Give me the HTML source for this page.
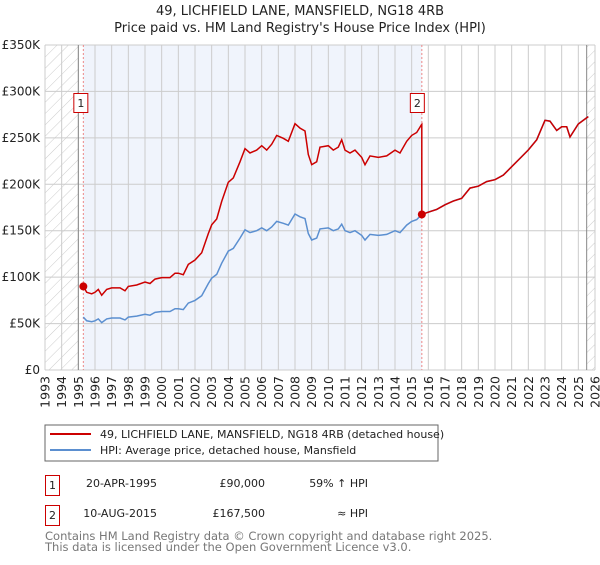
<!DOCTYPE html>
<html><head><meta charset="utf-8"><style>
body{margin:0;background:#fff;font-family:"Liberation Sans","DejaVu Sans",sans-serif;}
svg text{font-family:"DejaVu Sans","Liberation Sans",sans-serif;}
</style></head><body>
<svg id="c" width="600" height="560" xmlns="http://www.w3.org/2000/svg">
<defs><pattern id="hatch" width="8" height="8" patternUnits="userSpaceOnUse" patternTransform="rotate(45)"><line x1="0" y1="0" x2="0" y2="8" stroke="#ccc" stroke-width="1"/></pattern></defs>
<text x="300" y="15" text-anchor="middle" font-size="13" fill="#222">49, LICHFIELD LANE, MANSFIELD, NG18 4RB</text>
<text x="300" y="32" text-anchor="middle" font-size="13" fill="#222">Price paid vs. HM Land Registry's House Price Index (HPI)</text>
<g id="plot"></g>
<g>
<rect x="45" y="425" width="393" height="36" fill="#fff" stroke="#666"/>
<line x1="50" y1="434" x2="91" y2="434" stroke="#cc0000" stroke-width="2"/>
<text x="100" y="438" font-size="11" fill="#222">49, LICHFIELD LANE, MANSFIELD, NG18 4RB (detached house)</text>
<line x1="50" y1="450" x2="91" y2="450" stroke="#5b8fd0" stroke-width="2"/>
<text x="100" y="454" font-size="11" fill="#222">HPI: Average price, detached house, Mansfield</text>
</g>
<g font-size="11" fill="#222">
<rect x="45.5" y="475.5" width="14" height="20" fill="#fff" stroke="#cc0000"/>
<text x="52.5" y="489" text-anchor="middle">1</text>
<text x="157" y="487" text-anchor="end">20-APR-1995</text>
<text x="265" y="487" text-anchor="end">£90,000</text>
<text x="368" y="487" text-anchor="end">59% ↑ HPI</text>
<rect x="45.5" y="505.5" width="14" height="20" fill="#fff" stroke="#cc0000"/>
<text x="52.5" y="519" text-anchor="middle">2</text>
<text x="157" y="517" text-anchor="end">10-AUG-2015</text>
<text x="265" y="517" text-anchor="end">£167,500</text>
<text x="368" y="517" text-anchor="end">≈ HPI</text>
</g>
<text x="45" y="540" font-size="11.5" fill="#777">Contains HM Land Registry data © Crown copyright and database right 2025.</text>
<text x="45" y="551" font-size="11.5" fill="#777">This data is licensed under the Open Government Licence v3.0.</text>
</svg>
<script>
const hpiYears=[1995.3,1995.5,1995.8,1996,1996.2,1996.4,1996.7,1997,1997.5,1997.8,1998,1998.5,1999,1999.3,1999.6,2000,2000.5,2000.8,2001,2001.3,2001.6,2002,2002.4,2002.8,2003,2003.3,2003.6,2004,2004.3,2004.7,2005,2005.3,2005.7,2006,2006.3,2006.6,2006.9,2007.3,2007.6,2008,2008.3,2008.6,2008.8,2009,2009.3,2009.5,2010,2010.3,2010.6,2010.8,2011,2011.3,2011.6,2012,2012.2,2012.5,2013,2013.5,2014,2014.3,2014.7,2015,2015.3,2015.6,2016,2016.5,2017,2017.5,2018,2018.5,2019,2019.5,2020,2020.5,2021,2021.5,2022,2022.5,2023,2023.3,2023.7,2024,2024.3,2024.5,2025,2025.6];
const hpiValues=[57,53,52,53,55,51,55,56,56,54,57,58,60,59,62,63,63,66,66,65,72,75,80,93,99,103,115,128,131,142,151,148,150,153,150,154,160,158,156,168,165,163,147,140,142,152,153,150,152,157,150,148,150,145,140,146,145,146,150,148,156,160,162,167.5,170,173,178,182,185,196,198,203,205,210,219,228,237,248,269,268,258,262,262,251,265,273];
const saleYears=[1995.3,2015.61];
const salePrices=[90,167.5];
const yTicks=[0,50,100,150,200,250,300,350];
const yTickLabels=["£0","£50K","£100K","£150K","£200K","£250K","£300K","£350K"];
const xYears=[1993,1994,1995,1996,1997,1998,1999,2000,2001,2002,2003,2004,2005,2006,2007,2008,2009,2010,2011,2012,2013,2014,2015,2016,2017,2018,2019,2020,2021,2022,2023,2024,2025,2026];

const X0=45,X1=595,Y0=370,Y1=45;
const xs=y=>X0+(y-1993)/(2026-1993)*(X1-X0);
const ys=v=>Y0-v/350*(Y0-Y1);
const NS="http://www.w3.org/2000/svg";
const g=document.getElementById('plot');
function mk(t,a){const e=document.createElementNS(NS,t);for(const k in a)e.setAttribute(k,a[k]);g.appendChild(e);return e;}
let e=mk('rect',{x:xs(saleYears[0]),y:Y1,width:xs(saleYears[1])-xs(saleYears[0]),height:Y0-Y1,fill:'#f0f4fc'});


e=mk('rect',{x:X0,y:Y1,width:xs(1995)-X0,height:Y0-Y1,fill:'url(#hatch)'});


e=mk('rect',{x:xs(2025.5),y:Y1,width:X1-xs(2025.5),height:Y0-Y1,fill:'url(#hatch)'});


yTicks.forEach((v,i)=>{
 e=mk('line',{x1:X0,x2:X1,y1:ys(v),y2:ys(v),stroke:'#ccc'});
 
 
 e=mk('text',{x:X0-5,y:ys(v)+4,'text-anchor':'end','font-size':'12',fill:'#222'});
 e.textContent=yTickLabels[i];
 
 
});
xYears.forEach(y=>{
 e=mk('line',{x1:xs(y),x2:xs(y),y1:Y1,y2:Y0,stroke:'#ccc'});
 
 
 const x=xs(y);
 e=mk('text',{x:0,y:0,'text-anchor':'end','font-size':'12.5',fill:'#222',transform:`translate(${x+4.5},${Y0+6}) rotate(-90)`});
 e.textContent=y;
 
 
});
e=mk('line',{x1:xs(1995),x2:xs(1995),y1:Y1,y2:Y0,stroke:'#888'});


e=mk('line',{x1:xs(2025.5),x2:xs(2025.5),y1:Y1,y2:Y0,stroke:'#888'});


saleYears.forEach((y,i)=>{
 e=mk('line',{x1:xs(y),x2:xs(y),y1:Y1,y2:Y0,stroke:'#e88','stroke-dasharray':'2,2'});
 
 
});
const hp=hpiYears.map((y,i)=>xs(y).toFixed(1)+','+ys(hpiValues[i]).toFixed(1)).join(' ');
e=mk('polyline',{points:hp,fill:'none',stroke:'#5b8fd0','stroke-width':1.5});


function hpiAt(y){for(let i=1;i<hpiYears.length;i++){if(hpiYears[i]>=y){const t=(y-hpiYears[i-1])/(hpiYears[i]-hpiYears[i-1]);return hpiValues[i-1]+t*(hpiValues[i]-hpiValues[i-1]);}}return hpiValues[hpiValues.length-1];}
const r0=salePrices[0]/hpiAt(saleYears[0]), r1=salePrices[1]/hpiAt(saleYears[1]);
const pts=[];
hpiYears.forEach((y,i)=>{ if(y<saleYears[1]) pts.push([xs(y),ys(hpiValues[i]*r0)]); });
pts.push([xs(saleYears[1]),ys(hpiAt(saleYears[1])*r0)]);
pts.push([xs(saleYears[1]),ys(salePrices[1])]);
hpiYears.forEach((y,i)=>{ if(y>saleYears[1]) pts.push([xs(y),ys(hpiValues[i]*r1)]); });
e=mk('polyline',{points:pts.map(p=>p[0].toFixed(1)+','+p[1].toFixed(1)).join(' '),fill:'none',stroke:'#cc0000','stroke-width':1.5});


saleYears.forEach((y,i)=>{
 e=mk('circle',{cx:xs(y),cy:ys(salePrices[i]),r:4,fill:'#cc0000'});
 
 
 const bx=xs(y)-(i==0?9:11);
 e=mk('rect',{x:bx-0.5,y:93.5,width:14,height:19,fill:'#fff',stroke:'#cc0000'});
 
 
 e=mk('text',{x:bx+6.5,y:107,'text-anchor':'middle','font-size':'11',fill:'#222'});
 e.textContent=String(i+1);
 
 
});
</script>
</body></html>
